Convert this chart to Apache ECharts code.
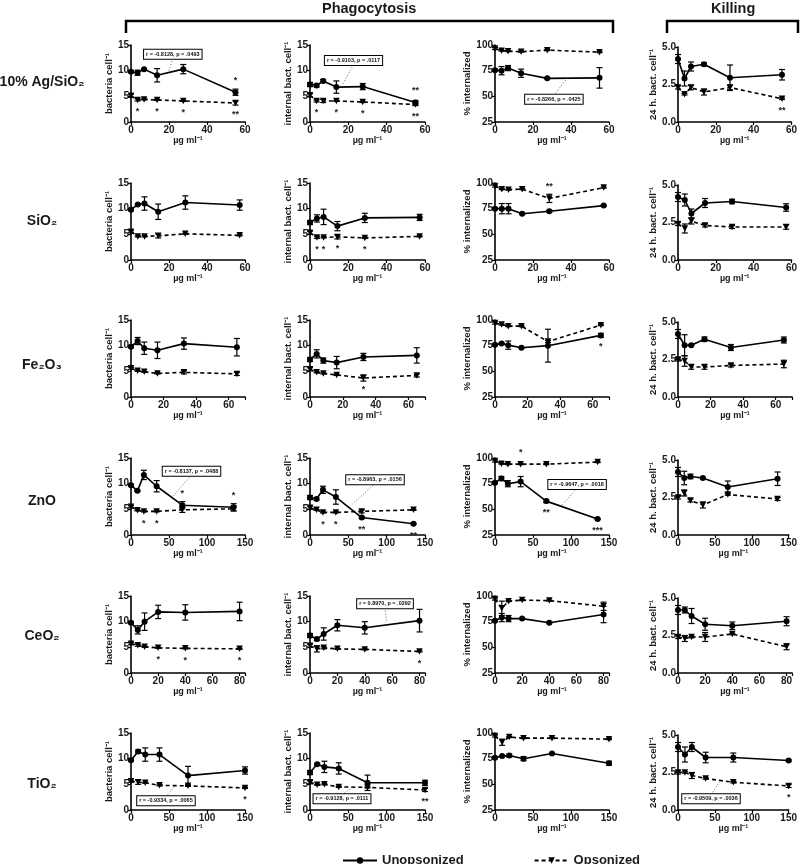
<!DOCTYPE html>
<html><head><meta charset="utf-8">
<script src="https://cdn.jsdelivr.net/npm/echarts@6/dist/echarts.min.js"></script>
<style>html,body{margin:0;padding:0;background:#fff}#c{width:800px;height:864px}</style>
</head><body><div id="c"></div>
<script>
// ---------- DATA ----------
const rowNames = ['10% Ag/SiO₂', 'SiO₂', 'Fe₂O₃', 'ZnO', 'CeO₂', 'TiO₂'];
const measureNames = ['bacteria cell⁻¹', 'internal bact. cell⁻¹', '% internalized', '24 h. bact. cell⁻¹'];
const seriesNames = ['Unopsonized', 'Opsonized'];
const xAxisName = 'µg ml⁻¹';

const doseAg = [0, 3.44, 6.88, 13.75, 27.5, 55];
const doseSi = [0, 3.6, 7.1, 14.3, 28.6, 57.2];
const doseFe = [0, 4.06, 8.13, 16.25, 32.5, 65];
const doseZn = [0, 8.44, 16.9, 33.75, 67.5, 135];
const doseCe = [0, 5, 10, 20, 40, 80];
const doseTi = [0, 9.4, 18.75, 37.5, 75, 150];

// each: [bacteria, internal, % internalized, 24 h killing]
const agU  = [[9.8,9.6,10.3,9.1,10.3,5.8],[7.3,7.1,8.0,6.8,6.9,3.8],[75.5,75,77.5,72.5,67.5,68],[4.2,2.9,3.7,3.85,2.95,3.15]];
const agUe = [[0.2,0.5,0.1,1.3,0.9,0.6],[0.4,0.3,0.3,1.2,0.6,0.4],[1,4,2.5,4,0.5,10],[0.3,0.5,0.3,0.1,0.85,0.35]];
const agO  = [[5.1,4.3,4.4,4.3,4.1,3.7],[5.2,4.1,4.1,4.1,3.9,3.4],[96.5,94.5,94,93.5,95,93],[2.3,1.85,2.3,2.0,2.3,1.55]];
const agOe = [[0.3,0.2,0.1,0.1,0.1,0.4],[0.3,0.2,0.3,0.1,0.1,0.2],[1,0.5,0.5,0.5,0.5,0.5],[0.1,0.05,0.15,0.2,0.15,0.05]];

const siU  = [[9.8,10.8,11.0,9.4,11.2,10.7],[7.3,8.1,8.4,6.6,8.2,8.3],[75,75,75,70,72.5,78],[4.2,4.0,3.1,3.8,3.9,3.5]];
const siUe = [[0.2,0.1,1.3,1.5,1.3,1.0],[0.4,0.7,1.5,0.9,0.9,0.6],[1,5,5,0.5,1,0.5],[0.3,0.4,0.3,0.3,0.15,0.25]];
const siO  = [[5.5,4.6,4.6,4.7,5.1,4.8],[5.3,4.4,4.4,4.5,4.3,4.6],[97,94,93.5,94,85,95.5],[2.4,2.1,2.6,2.3,2.2,2.2]];
const siOe = [[0.2,0.1,0.1,0.4,0.1,0.1],[0.3,0.2,0.1,0.4,0.1,0.1],[1,0.5,0.5,0.5,4,0.5],[0.1,0.3,0.2,0.1,0.1,0.15]];

const feU  = [[9.8,10.9,9.5,9.1,10.4,9.7],[7.3,8.4,7.1,6.7,7.8,8.1],[76,77,75.5,73,75,85],[4.2,3.45,3.45,3.85,3.3,3.8]];
const feUe = [[0.2,0.7,1.2,1.6,1.1,1.7],[0.4,0.8,0.5,1.2,0.7,1.5],[1,0.5,4,0.5,16,2],[0.3,0.7,0.05,0.15,0.2,0.2]];
const feO  = [[5.6,5.1,4.9,4.6,4.8,4.5],[5.4,4.8,4.6,4.3,3.7,4.2],[97,95.5,94,94,79,95],[2.5,2.4,2.0,2.0,2.1,2.2]];
const feOe = [[0.2,0.1,0.1,0.1,0.3,0.3],[0.3,0.1,0.1,0.1,0.6,0.3],[1,0.5,0.5,0.5,1,0.5],[0.1,0.35,0.15,0.15,0.1,0.25]];

const znU  = [[9.7,8.6,11.7,9.5,5.8,5.4],[7.3,7.0,8.8,7.4,3.4,2.2],[76,80,75,77,58,40.5],[4.2,3.8,3.9,3.8,3.2,3.75]];
const znUe = [[0.2,0.1,0.9,1.1,0.7,0.7],[0.4,0.2,0.7,1.4,0.2,0.1],[1,2,3,5,1.5,0.5],[0.3,0.45,0.15,0.05,0.4,0.45]];
const znO  = [[5.5,4.8,4.6,4.6,4.9,5.1],[5.3,4.9,4.4,4.4,4.6,4.9],[97,94.5,94,94,94,96],[2.5,2.8,2.3,2.0,2.7,2.4]];
const znOe = [[0.2,0.1,0.1,0.1,0.5,0.4],[0.3,0.1,0.1,0.1,0.3,0.1],[1,0.5,0.5,0.5,0.5,0.5],[0.1,0.2,0.1,0.2,0.05,0.1]];

const ceU  = [[9.8,8.4,10.0,11.9,11.8,12.0],[7.3,6.6,7.6,9.3,8.8,10.2],[76,79,78,78,74,82],[4.2,4.2,3.8,3.25,3.15,3.45]];
const ceUe = [[0.2,0.8,1.7,1.3,1.5,1.8],[0.4,0.3,1.2,1.1,1.2,2.2],[1,4,3,0.5,0.5,8],[0.3,0.2,0.5,0.4,0.25,0.3]];
const ceO  = [[5.7,5.4,5.1,4.9,4.8,4.7],[5.3,4.7,4.9,4.7,4.6,4.2],[97,88,95,96,95.5,90],[2.4,2.3,2.4,2.4,2.6,1.75]];
const ceOe = [[0.2,0.2,0.1,0.1,0.1,0.1],[0.3,0.6,0.2,0.1,0.1,0.1],[1,7,0.5,0.5,0.5,4],[0.1,0.2,0.05,0.3,0.05,0.2]];

const tiU  = [[9.7,11.4,10.8,10.8,6.7,7.7],[7.3,8.9,8.4,8.1,5.3,5.3],[76,77.5,78,75,80,70.5],[4.2,3.7,4.2,3.5,3.5,3.3]];
const tiUe = [[0.2,0.3,1.3,1.3,1.8,0.7],[0.4,0.2,1.1,1.1,1.5,0.5],[1,0.5,1.5,2,0.5,2],[0.3,0.5,0.3,0.35,0.3,0.05]];
const tiO  = [[5.6,5.4,5.3,4.8,4.7,4.3],[5.4,4.9,5.0,4.5,4.4,3.9],[97,91,96,95,95,94],[2.5,2.5,2.3,2.1,1.85,1.6]];
const tiOe = [[0.2,0.4,0.1,0.1,0.1,0.1],[0.3,0.1,0.1,0.1,0.1,0.3],[1,3,0.5,0.5,0.5,0.5],[0.1,0.05,0.2,0.05,0.05,0.1]];

// significance marks: [measure, series(0=U,1=O), point index, side, text]
const agStars = [[0,1,1,'bottom','*'],[0,1,3,'bottom','*'],[0,1,4,'bottom','*'],[0,1,5,'bottom','**'],[0,0,5,'top','*'],
  [1,1,1,'bottom','*'],[1,1,3,'bottom','*'],[1,1,4,'bottom','*'],[1,1,5,'bottom','**'],[1,0,5,'top','**'],[3,1,5,'bottom','**']];
const siStars = [[1,1,1,'bottom','*'],[1,1,2,'bottom','*'],[1,1,3,'bottom','*'],[1,1,4,'bottom','*'],[2,1,4,'top','**']];
const feStars = [[1,1,4,'bottom','*'],[2,0,5,'bottom','*']];
const znStars = [[0,1,2,'bottom','*'],[0,1,3,'bottom','*'],[0,0,4,'top','*'],[0,0,5,'top','*'],
  [1,1,2,'bottom','*'],[1,1,3,'bottom','*'],[1,0,4,'bottom','**'],[1,0,5,'bottom','**'],
  [2,1,3,'top','*'],[2,0,4,'bottom','**'],[2,0,5,'bottom','***']];
const ceStars = [[0,1,3,'bottom','*'],[0,1,4,'bottom','*'],[0,1,5,'bottom','*'],[1,1,5,'bottom','*']];
const tiStars = [[0,1,5,'bottom','*'],[1,1,3,'bottom','*'],[1,1,4,'bottom','*'],[1,1,5,'bottom','**'],[3,1,5,'bottom','*']];

// correlation notes (text)
const noteTexts = ['r = -0.8128, p = .0493','r = -0.9103, p = .0117','r = -0.8266, p = .0425','r = -0.8137, p = .0488',
  'r = -0.8963, p = .0156','r = -0.9647, p = .0018','r = 0.8970, p = .0292','r = -0.9334, p = .0065','r = -0.9128, p = .0111','r = -0.9509, p = .0036'];

// ---------- LAYOUT ----------
const noteLayout = [ // [row, col, boxX, boxY, leaderX, leaderY] in axis units
  [0,0,22,13.2,20,9.9],[0,1,22.7,12.0,17,7.3],[0,2,31,47.2,38,67.6],[3,0,79.6,12.4,55,7.6],
  [3,1,84.8,10.75,55,6.0],[3,2,108,74.3,88,54],[4,1,54.8,13.5,56,9.8],[5,0,46,1.8,58,4.75],
  [5,1,41.7,2.2,56,4.45],[5,3,44.7,0.75,58,2.0]];
const xMax = [60,60,70,150,84,150];
const xInt = [20,20,20,50,20,50];
const colLeft = [131,310,495,678];
const colW = [114,115,114,114];
const rowTop = [45,183,320,458,596,733];
const yCfg = [
  {min:0,max:15,interval:5,gap:13,fmt:v=>String(v)},
  {min:0,max:15,interval:5,gap:13,fmt:v=>String(v)},
  {min:25,max:100,interval:25,gap:19,fmt:v=>String(v)},
  {min:0,max:5,interval:2.5,gap:19,fmt:v=>v.toFixed(1)}];

const rows = [
  {dose:doseAg,U:agU,Ue:agUe,O:agO,Oe:agOe,stars:agStars},
  {dose:doseSi,U:siU,Ue:siUe,O:siO,Oe:siOe,stars:siStars},
  {dose:doseFe,U:feU,Ue:feUe,O:feO,Oe:feOe,stars:feStars},
  {dose:doseZn,U:znU,Ue:znUe,O:znO,Oe:znOe,stars:znStars},
  {dose:doseCe,U:ceU,Ue:ceUe,O:ceO,Oe:ceOe,stars:ceStars},
  {dose:doseTi,U:tiU,Ue:tiUe,O:tiO,Oe:tiOe,stars:tiStars}];

const FONT = '"Liberation Sans", Arial, sans-serif';
const INK = '#1a1a1a';

function errRender(params, api) {
  const x = api.value(0), y = api.value(1), e = api.value(2);
  const p1 = api.coord([x, y + e]), p2 = api.coord([x, y - e]);
  const w = 3, st = {stroke:'#000', lineWidth:1.2};
  return {type:'group', children:[
    {type:'line', shape:{x1:p1[0],y1:p1[1],x2:p2[0],y2:p2[1]}, style:st},
    {type:'line', shape:{x1:p1[0]-w,y1:p1[1],x2:p1[0]+w,y2:p1[1]}, style:st},
    {type:'line', shape:{x1:p2[0]-w,y1:p2[1],x2:p2[0]+w,y2:p2[1]}, style:st}]};
}

const grids = [], xAxes = [], yAxes = [], series = [];
rows.forEach((row, r) => {
  for (let c = 0; c < 4; c++) {
    const g = grids.length;
    const yc = yCfg[c];
    grids.push({left:colLeft[c], top:rowTop[r] + (c===3?2:0), width:colW[c], height:(c===3?75:77)});
    const xi = xInt[r];
    xAxes.push({gridIndex:g, type:'value', min:0, max:xMax[r], interval:xi,
      name:xAxisName, nameLocation:'middle', nameGap:14,
      nameTextStyle:{fontSize:9, fontWeight:'bold', color:INK, fontFamily:FONT},
      axisLine:{show:true, onZero:false, lineStyle:{color:'#000', width:1.6}},
      axisTick:{show:true, length:3, lineStyle:{color:'#000', width:1.2}},
      axisLabel:{margin:3, fontSize:10, fontWeight:'bold', color:INK, fontFamily:FONT,
        formatter: v => (Math.abs(v % xi) < 1e-9 ? String(v) : '')},
      splitLine:{show:false}});
    yAxes.push({gridIndex:g, type:'value', min:yc.min, max:yc.max, interval:yc.interval,
      name:measureNames[c], nameLocation:'middle', nameGap:yc.gap,
      nameTextStyle:{fontSize:9.5, fontWeight:'bold', color:INK, fontFamily:FONT},
      axisLine:{show:true, onZero:false, lineStyle:{color:'#000', width:1.6}},
      axisTick:{show:true, length:3, lineStyle:{color:'#000', width:1.2}},
      axisLabel:{margin:2, fontSize:10, fontWeight:'bold', color:INK, fontFamily:FONT, formatter:yc.fmt},
      splitLine:{show:false}});
    [[row.U[c], row.Ue[c]], [row.O[c], row.Oe[c]]].forEach((pair, s) => {
      const vals = pair[0], errs = pair[1];
      series.push({type:'custom', xAxisIndex:g, yAxisIndex:g, silent:true, z:3,
        renderItem:errRender, data:row.dose.map((x,i)=>[x, vals[i], errs[i]])});
      const marks = row.stars.filter(t => t[0]===c && t[1]===s);
      series.push({type:'line', name:seriesNames[s], xAxisIndex:g, yAxisIndex:g, z:4,
        symbol: s===0 ? 'circle' : 'triangle', symbolRotate: s===0 ? 0 : 180,
        symbolSize: s===0 ? 6 : 6.5, showAllSymbol:true,
        lineStyle:{color:'#000', width:1.6, type: s===0 ? 'solid' : [4,3]},
        itemStyle:{color:'#000'},
        data: row.dose.map((x,i) => {
          const item = {value:[x, vals[i]]};
          const m = marks.find(t => t[2]===i);
          if (m) item.label = {show:true, position:m[3], distance:4, formatter:m[4],
            fontSize:9, fontWeight:'bold', color:'#222', fontFamily:FONT};
          return item;
        })});
    });
  }
});

const chart = echarts.init(document.getElementById('c'), null, {renderer:'canvas'});
chart.setOption({
  animation:false,
  backgroundColor:'#fff',
  textStyle:{fontFamily:FONT},
  grid:grids, xAxis:xAxes, yAxis:yAxes, series:series,
  legend:{data:seriesNames, left:337, top:849, itemWidth:34, itemHeight:8, itemGap:70,
    textStyle:{fontSize:13, fontWeight:'bold', color:INK, fontFamily:FONT}}
});

// ---------- GRAPHICS (headers, row labels, notes) ----------
const gfx = [];
gfx.push({type:'text', left:322, top:1, style:{text:'Phagocytosis', font:'bold 14.5px ' + FONT, fill:INK}});
gfx.push({type:'text', left:711, top:1, style:{text:'Killing', font:'bold 14.5px ' + FONT, fill:INK}});
gfx.push({type:'polyline', shape:{points:[[126,33],[126,21],[613,21],[613,33]]}, style:{stroke:'#000', lineWidth:2.5, fill:null}});
gfx.push({type:'polyline', shape:{points:[[667,33],[667,21],[798,21],[798,33]]}, style:{stroke:'#000', lineWidth:2.5, fill:null}});
const rowLabelY = [82, 221, 365, 501, 636, 784];
rowNames.forEach((n, r) => {
  gfx.push({type:'text', x:42, y:rowLabelY[r], style:{text:n, font:'bold 14px ' + FONT, fill:INK, align:'center', verticalAlign:'middle'}});
});
noteLayout.forEach((nl, k) => {
  const g = nl[0]*4 + nl[1];
  const b = chart.convertToPixel({gridIndex:g}, [nl[2], nl[3]]);
  const e = chart.convertToPixel({gridIndex:g}, [nl[4], nl[5]]);
  const sy = e[1] > b[1] ? b[1] + 4 : b[1] - 4;
  gfx.push({type:'line', shape:{x1:b[0], y1:sy, x2:e[0], y2:e[1]}, style:{stroke:'#666', lineWidth:1, lineDash:[1,2]}, z:10});
  gfx.push({type:'text', x:b[0], y:b[1], z:11, style:{text:noteTexts[k], font:'bold 5.5px ' + FONT, fill:'#111',
    align:'center', verticalAlign:'middle', backgroundColor:'#fff', borderColor:'#000', borderWidth:1, padding:[1.5,2]}});
});
chart.setOption({graphic:gfx});
</script></body></html>
